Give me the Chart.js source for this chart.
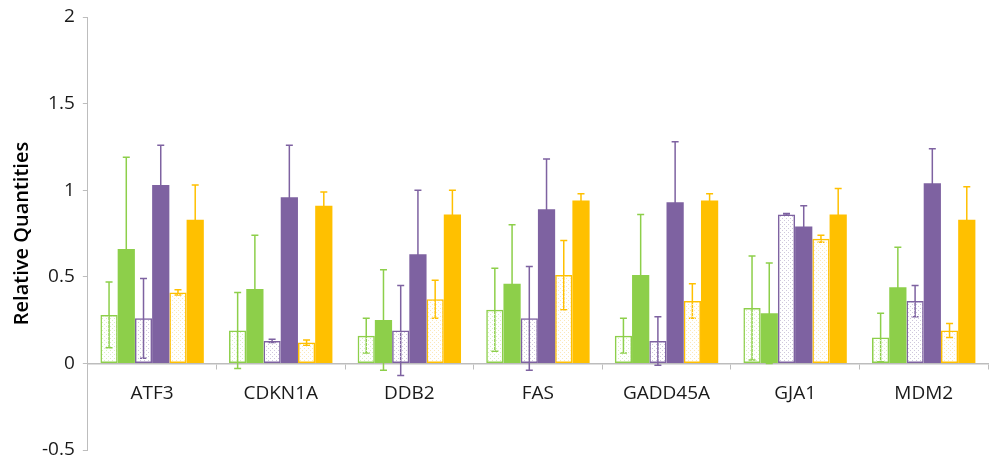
<!DOCTYPE html>
<html>
<head>
<meta charset="utf-8">
<script src="https://cdn.jsdelivr.net/npm/chart.js@4.4.1/dist/chart.umd.min.js"></script>
<style>
  html, body { margin: 0; padding: 0; background: #fff; }
  #wrap { width: 990px; height: 460px; }
</style>
</head>
<body>
<div id="wrap"><canvas id="qChart"></canvas></div>
<script>
// genes on the x axis
const genes = ["ATF3", "CDKN1A", "DDB2", "FAS", "GADD45A", "GJA1", "MDM2"];
const yTicks = [-0.5, 0, 0.5, 1, 1.5, 2];

// bar heights, one array per series
const greenDotted  = [0.28, 0.19, 0.16, 0.31, 0.16, 0.32, 0.15];
const greenSolid   = [0.66, 0.43, 0.25, 0.46, 0.51, 0.29, 0.44];
const purpleDotted = [0.26, 0.13, 0.19, 0.26, 0.13, 0.86, 0.36];
const purpleSolid  = [1.03, 0.96, 0.63, 0.89, 0.93, 0.79, 1.04];
const orangeDotted = [0.41, 0.12, 0.37, 0.51, 0.36, 0.72, 0.19];
const orangeSolid  = [0.83, 0.91, 0.86, 0.94, 0.94, 0.86, 0.83];

// error bar sizes (+/-)
const greenDottedErr  = [0.19, 0.22, 0.10, 0.24, 0.10, 0.30, 0.14];
const greenSolidErr   = [0.53, 0.31, 0.29, 0.34, 0.35, 0.29, 0.23];
const purpleDottedErr = [0.23, 0.01, 0.26, 0.30, 0.14, 0.005, 0.09];
const purpleSolidErr  = [0.23, 0.30, 0.37, 0.29, 0.35, 0.12, 0.20];
const orangeDottedErr = [0.015, 0.015, 0.11, 0.20, 0.10, 0.02, 0.04];
const orangeSolidErr  = [0.20, 0.08, 0.14, 0.04, 0.04, 0.15, 0.19];

const GREEN = "#8DCF4A";
const PURPLE = "#7E62A1";
const ORANGE = "#FFC000";

// small dotted pattern, transparent so error lines show through
function dots(color) {
  const c = document.createElement("canvas");
  c.width = 4;
  c.height = 4;
  const g = c.getContext("2d");
  g.fillStyle = color;
  g.fillRect(0, 0, 1, 1);
  g.fillRect(2, 2, 1, 1);
  return g.createPattern(c, "repeat");
}

const errorBars = {
  id: "errorBars",
  beforeDatasetsDraw(chart) {
    const ctx = chart.ctx;
    const y = chart.scales.y;
    chart.data.datasets.forEach((ds, i) => {
      const meta = chart.getDatasetMeta(i);
      ctx.save();
      ctx.strokeStyle = ds.errColor;
      ctx.lineWidth = 1.5;
      meta.data.forEach((bar, j) => {
        const v = ds.data[j];
        const e = ds.err[j];
        const top = y.getPixelForValue(v + e);
        const bot = y.getPixelForValue(v - e);
        ctx.beginPath();
        ctx.moveTo(bar.x, top);
        ctx.lineTo(bar.x, bot);
        ctx.moveTo(bar.x - 3.5, top);
        ctx.lineTo(bar.x + 3.5, top);
        ctx.moveTo(bar.x - 3.5, bot);
        ctx.lineTo(bar.x + 3.5, bot);
        ctx.stroke();
      });
      ctx.restore();
    });
  }
};

function dotted(label, data, err, color, dotColor) {
  return {
    label: label,
    data: data,
    err: err,
    errColor: color,
    backgroundColor: dots(dotColor),
    borderColor: color,
    borderWidth: 1.5,
    borderSkipped: false
  };
}

function solid(label, data, err, color) {
  return {
    label: label,
    data: data,
    err: err,
    errColor: color,
    backgroundColor: color,
    borderWidth: 0
  };
}

const fontFam = "'Open Sans', 'DejaVu Sans', sans-serif";

new Chart(document.getElementById("qChart"), {
  type: "bar",
  data: {
    labels: genes,
    datasets: [
      dotted("Series 1", greenDotted, greenDottedErr, GREEN, "#d9efc4"),
      solid("Series 2", greenSolid, greenSolidErr, GREEN),
      dotted("Series 3", purpleDotted, purpleDottedErr, PURPLE, "#cfc7dc"),
      solid("Series 4", purpleSolid, purpleSolidErr, PURPLE),
      dotted("Series 5", orangeDotted, orangeDottedErr, ORANGE, "#fbe8b8"),
      solid("Series 6", orangeSolid, orangeSolidErr, ORANGE)
    ]
  },
  options: {
    responsive: true,
    maintainAspectRatio: false,
    animation: false,
    datasets: { bar: { categoryPercentage: 0.804, barPercentage: 1.0 } },
    layout: { padding: { top: 17, bottom: 10, left: 2, right: 2 } },
    plugins: {
      legend: { display: false },
      tooltip: { enabled: false }
    },
    scales: {
      x: {
        position: { y: 0 },
        afterFit: (scale) => { scale.height = 0; },
        grid: { drawOnChartArea: false, tickLength: 5, color: "#bdbdbd", lineWidth: 1 },
        border: { color: "#bdbdbd", width: 1.5 },
        ticks: { color: "#1a1a1a", padding: 14, font: { family: fontFam, size: 19 } }
      },
      y: {
        min: -0.5,
        max: 2,
        afterBuildTicks: (scale) => { scale.ticks = yTicks.map(v => ({ value: v })); },
        // let layout padding decide where 2 and -0.5 sit
        afterFit: (scale) => { scale.paddingTop = 0; scale.paddingBottom = 0; },
        grid: { drawOnChartArea: false, tickLength: 5, color: "#bdbdbd" },
        border: { color: "#bdbdbd", width: 1 },
        ticks: {
          color: "#1a1a1a",
          padding: 8,
          font: { family: fontFam, size: 19 },
          callback: (v) => String(v)
        },
        title: {
          display: true,
          text: "Relative Quantities",
          color: "#000",
          padding: { top: 8, bottom: 0 },
          font: { family: fontFam, size: 20, weight: "600" }
        }
      }
    }
  },
  plugins: [errorBars]
});
</script>
</body>
</html>
